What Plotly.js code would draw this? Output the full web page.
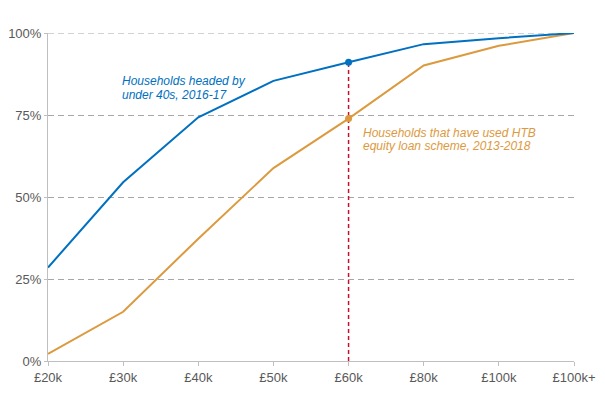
<!DOCTYPE html>
<html>
<head>
<meta charset="utf-8">
<script src="https://cdn.plot.ly/plotly-3.0.1.min.js"></script>
<style>html,body{margin:0;padding:0;background:#fff;}#chart{width:605px;height:397px;}</style>
</head>
<body>
<div id="chart"></div>
<script>
const categories = ['£20k','£30k','£40k','£50k','£60k','£80k','£100k','£100k+'];
const under40s = [28.5, 54.5, 74.3, 85.4, 91.1, 96.6, 98.4, 100];
const htbBuyers = [2.2, 15.0, 37.3, 58.8, 73.9, 90.1, 96.1, 100];
const yTickVals = [0, 25, 50, 75, 100];
const yTickText = ['0%', '25%', '50%', '75%', '100%'];
const highlight = '£60k';

const BLUE = '#0070C0', ORANGE = '#DC9A3E', RED = '#C8102E', GRID = '#A6A6A6';
const hi = categories.indexOf(highlight);

const traces = [
  {x: categories, y: htbBuyers, mode: 'lines', line: {color: ORANGE, width: 2}},
  {x: categories, y: under40s, mode: 'lines', line: {color: BLUE, width: 2}},
  {x: [highlight, highlight], y: [0, under40s[hi]], mode: 'lines',
   line: {color: RED, width: 1.5, dash: '4px,3px'}, hoverinfo: 'skip'},
  {x: [highlight], y: [htbBuyers[hi]], mode: 'markers', marker: {color: ORANGE, size: 7}},
  {x: [highlight], y: [under40s[hi]], mode: 'markers', marker: {color: BLUE, size: 7}}
];

const fontBase = {family: 'Liberation Sans, Arial, sans-serif', size: 13, color: '#595959'};
const ann = (x, y, text, color) => ({x: x, y: y, xref: 'x', yref: 'y', text: text, showarrow: false,
  xanchor: 'left', yanchor: 'middle', font: {family: 'Liberation Sans, Arial, sans-serif', size: 12, color: color}});

const layout = {
  width: 605, height: 397,
  margin: {l: 48, r: 31, t: 33, b: 36},
  paper_bgcolor: '#fff', plot_bgcolor: '#fff',
  showlegend: false,
  font: fontBase,
  xaxis: {type: 'category', categoryorder: 'array', categoryarray: categories,
    range: [0, 7], showgrid: false, zeroline: false,
    showline: true, linecolor: '#BFBFBF', linewidth: 1,
    ticks: 'outside', ticklen: 4, tickcolor: '#BFBFBF', tickfont: fontBase, fixedrange: true},
  yaxis: {range: [0, 100], tickvals: yTickVals, ticktext: yTickText,
    showgrid: true, gridcolor: GRID, griddash: '6px,4px', gridwidth: 1, zeroline: false,
    showline: true, linecolor: '#BFBFBF', linewidth: 1,
    ticks: 'outside', ticklen: 3, tickcolor: '#BFBFBF', tickfont: fontBase, fixedrange: true},
  shapes: [
    {type: 'line', xref: 'paper', yref: 'y', x0: 0, x1: 1, y0: 100, y1: 100,
     line: {color: GRID, width: 1, dash: '6px,4px'}, layer: 'below'}
  ],
  annotations: [
    ann(0.96, 85.3, '<i>Households headed by</i>', BLUE),
    ann(0.96, 81.2, '<i>under 40s, 2016-17</i>', BLUE),
    ann(4.16, 69.6, '<i>Households that have used HTB</i>', ORANGE),
    ann(4.16, 65.5, '<i>equity loan scheme, 2013-2018</i>', ORANGE)
  ]
};

Plotly.newPlot('chart', traces, layout, {displayModeBar: false, staticPlot: true});
</script>
</body>
</html>
